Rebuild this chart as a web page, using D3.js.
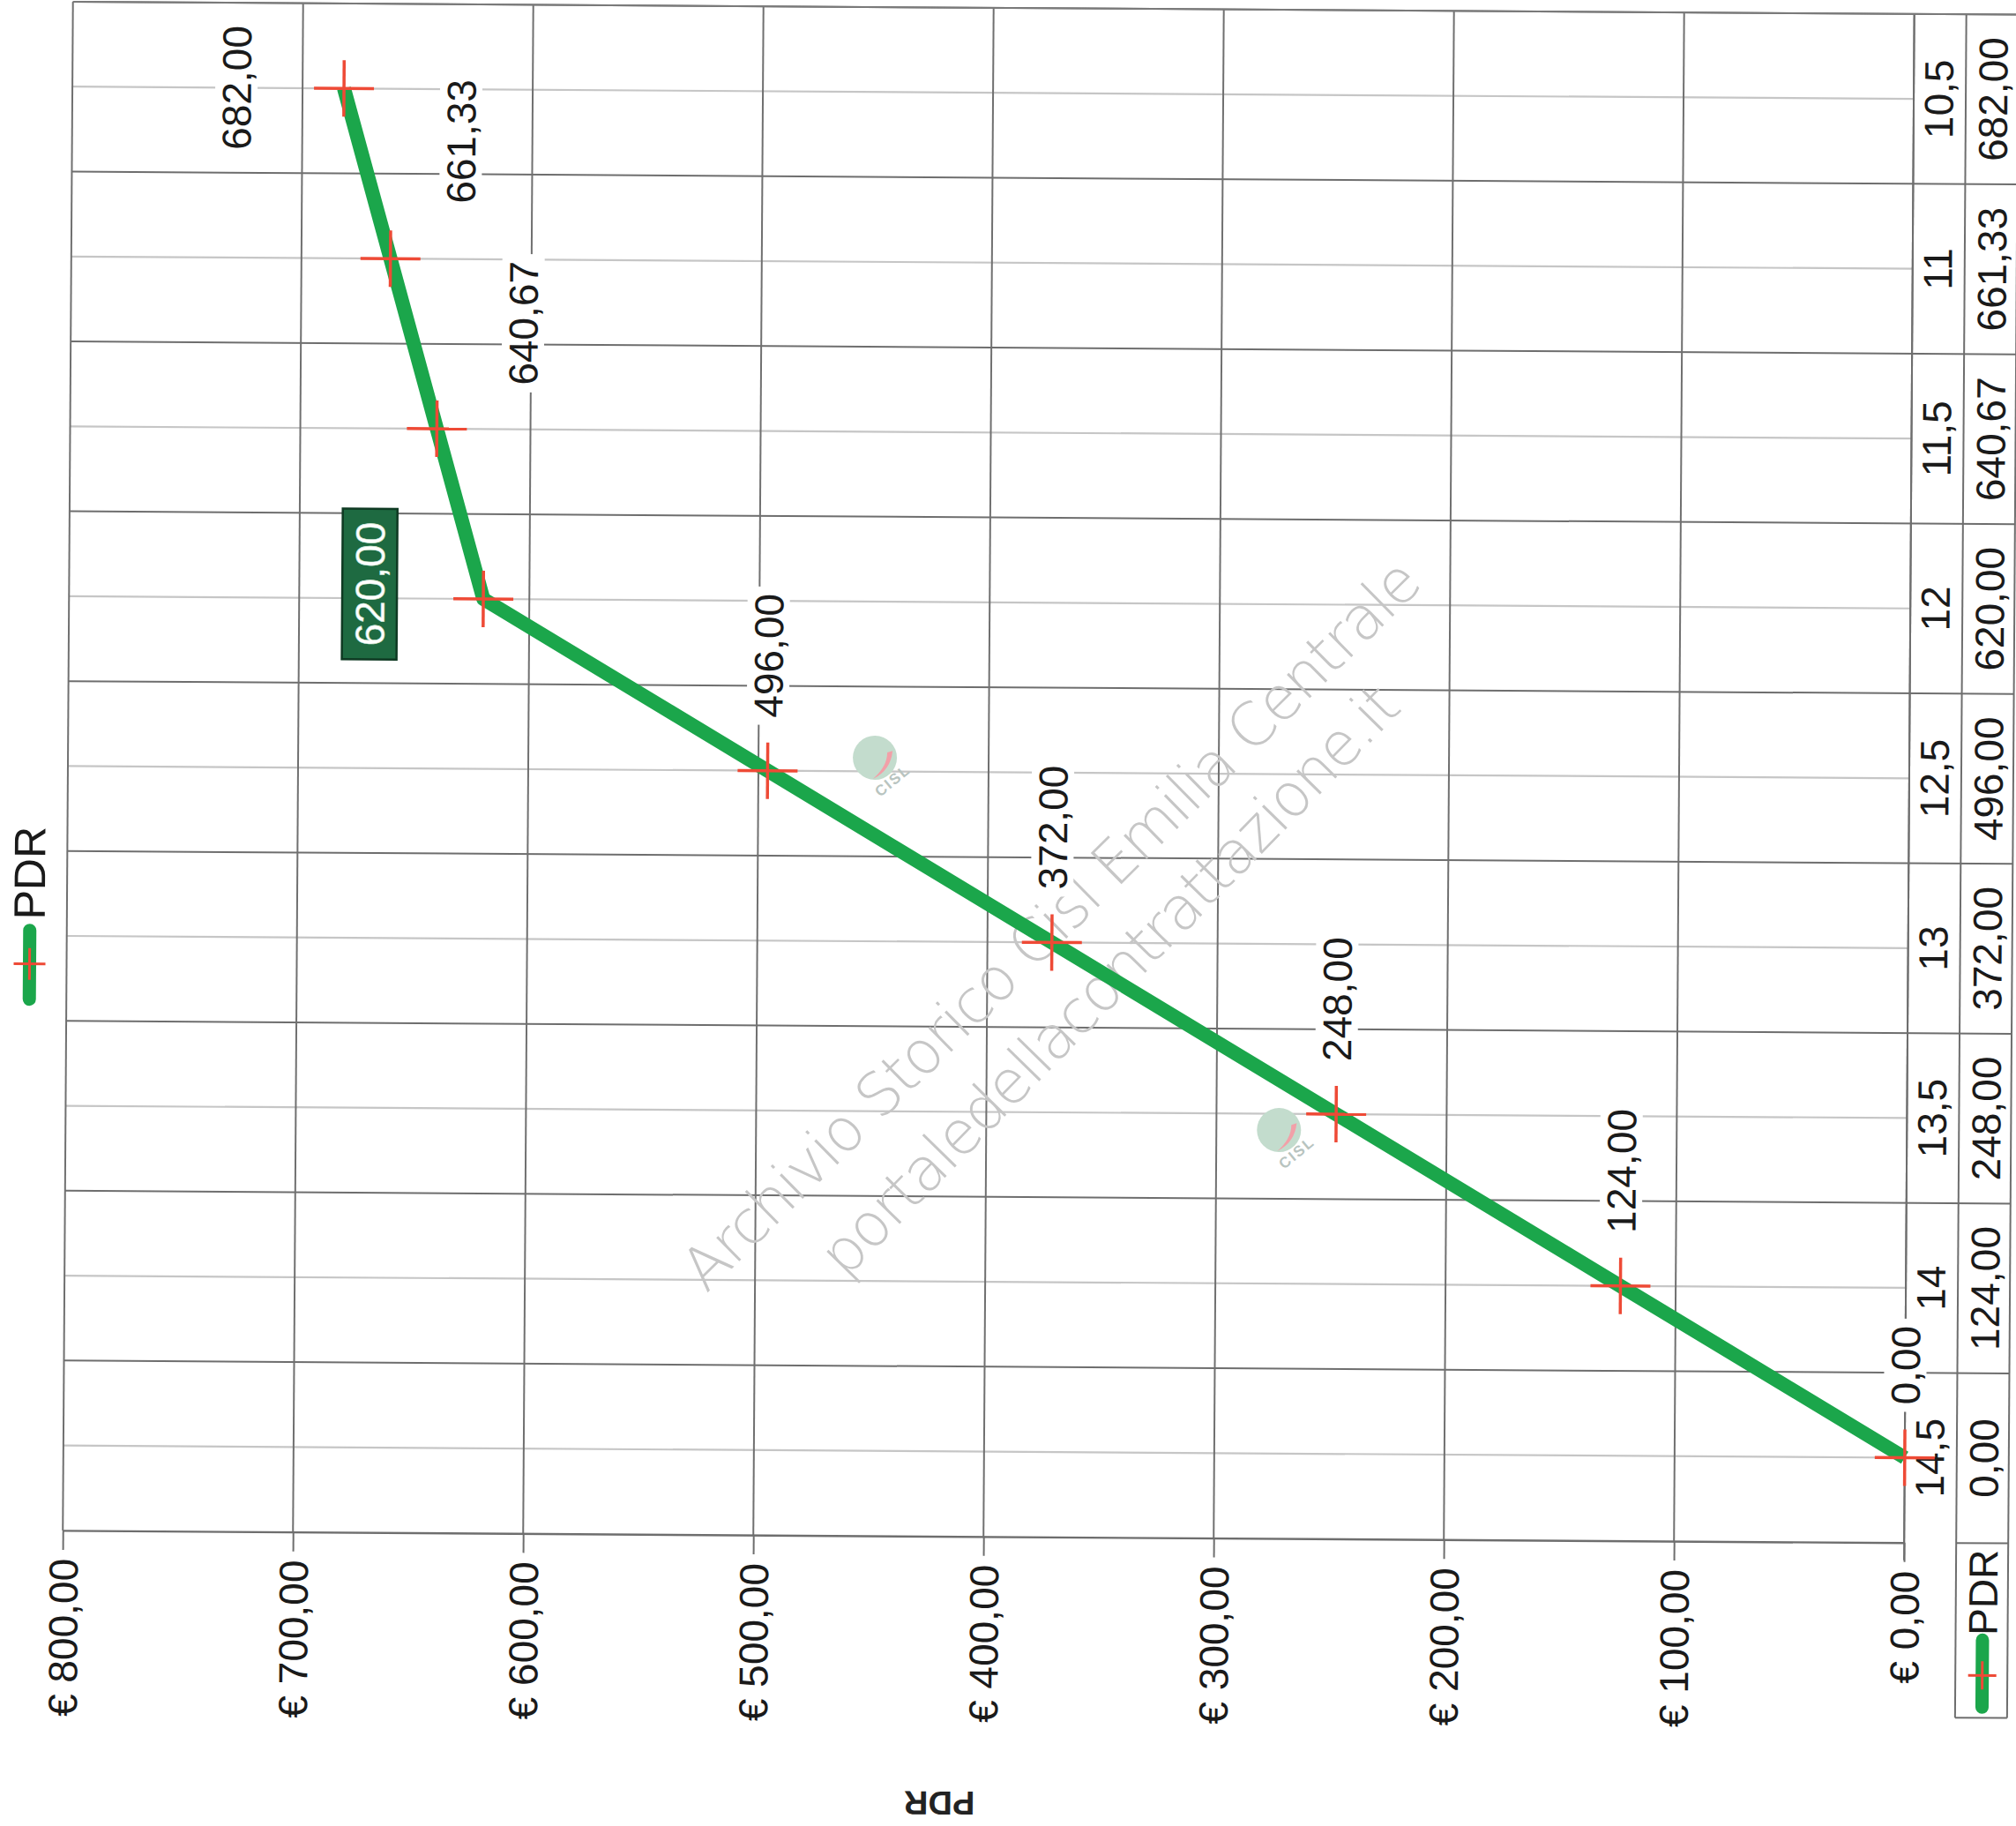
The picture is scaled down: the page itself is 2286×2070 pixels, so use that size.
<!DOCTYPE html>
<html>
<head>
<meta charset="utf-8">
<script src="https://cdn.jsdelivr.net/npm/d3@7"></script>
<style>
  html, body { margin: 0; padding: 0; background: #ffffff; }
  svg { display: block; }
</style>
</head>
<body>
<svg id="chart" width="2286" height="2070"></svg>
<script>
// ---------------- data ----------------
const categories = ["10,5", "11", "11,5", "12", "12,5", "13", "13,5", "14", "14,5"];
const values = [682.00, 661.33, 640.67, 620.00, 496.00, 372.00, 248.00, 124.00, 0.00];
const valueTicks = [0, 100, 200, 300, 400, 500, 600, 700, 800];
const seriesName = "PDR";
const axisTitle = "PDR";
const watermarkLines = ["Archivio Storico Cisl Emilia Centrale", "portaledellacontrattazione.it"];

// ---------------- layout ----------------
const W = 2286, H = 2070;
const plot = { left: 77, right: 2165, top: 9, bottom: 1742 };
const table = { col1: 2165, col2: 2224, right: 2283, legendBottom: 1940 };
const FONT = "'Liberation Sans', Arial, 'DejaVu Sans', sans-serif";
const GREEN = "#1ba64b", RED = "#ee4a36";

const fmt = v => d3.format(",.2f")(v).replace(/,/g, "#").replace(".", ",").replace(/#/g, ".");

const svg = d3.select("#chart");
svg.append("rect").attr("width", W).attr("height", H).attr("fill", "#fff");

// slight scan skew
const root = svg.append("g").attr("transform", "rotate(0.38, 1143, 870)");

const x = d3.scaleLinear().domain([0, 800]).range([plot.right, plot.left]);
const y = d3.scaleBand().domain(categories).range([plot.top, plot.bottom]).padding(0);
const yc = c => y(c) + y.bandwidth() / 2;

// ---------- grid: category centre lines (light) ----------
root.append("g").selectAll("line.cc").data(categories).join("line")
  .attr("x1", plot.left).attr("x2", plot.right)
  .attr("y1", d => yc(d)).attr("y2", d => yc(d))
  .attr("stroke", "#c6c6c6").attr("stroke-width", 2.2);

// ---------- grid: category boundary lines (dark, extend through table) ----------
const boundaries = categories.map(c => y(c));
root.append("g").selectAll("line.cb").data(boundaries).join("line")
  .attr("x1", plot.left).attr("x2", table.right)
  .attr("y1", d => d).attr("y2", d => d)
  .attr("stroke", "#6e6e6e").attr("stroke-width", 2);

// ---------- grid: value lines ----------
root.append("g").selectAll("line.vg").data(valueTicks).join("line")
  .attr("x1", d => x(d)).attr("x2", d => x(d))
  .attr("y1", plot.top).attr("y2", plot.bottom)
  .attr("stroke", "#707070").attr("stroke-width", 2);

// ---------- value axis (bottom of picture) ----------
const axis = d3.axisBottom(x).tickValues(valueTicks).tickSize(22).tickSizeOuter(0)
  .tickFormat(d => "€ " + fmt(d));
const axG = root.append("g").attr("transform", `translate(0,${plot.bottom})`).call(axis);
axG.select(".domain").attr("stroke", "#6e6e6e").attr("stroke-width", 2.4);
axG.selectAll(".tick line").attr("stroke", "#6e6e6e").attr("stroke-width", 2);
axG.selectAll(".tick text")
  .attr("font-family", FONT).attr("font-size", 46).attr("fill", "#1a1a1a")
  .attr("text-anchor", "end")
  .attr("transform", "translate(0,32) rotate(-90)")
  .attr("x", 0).attr("y", 0).attr("dy", "0.36em");

// ---------- data table at the right ----------
const tg = root.append("g");
tg.append("line").attr("x1", table.col1).attr("x2", table.col1).attr("y1", plot.top).attr("y2", plot.bottom + 20)
  .attr("stroke", "#6e6e6e").attr("stroke-width", 2);
tg.append("line").attr("x1", table.col2).attr("x2", table.col2).attr("y1", plot.top).attr("y2", table.legendBottom)
  .attr("stroke", "#6e6e6e").attr("stroke-width", 2);
tg.append("line").attr("x1", table.right).attr("x2", table.right).attr("y1", plot.top).attr("y2", table.legendBottom)
  .attr("stroke", "#6e6e6e").attr("stroke-width", 2);
tg.append("line").attr("x1", plot.left).attr("x2", table.right).attr("y1", plot.top).attr("y2", plot.top)
  .attr("stroke", "#7a7a7a").attr("stroke-width", 2);
tg.append("line").attr("x1", table.col2).attr("x2", table.right).attr("y1", plot.bottom).attr("y2", plot.bottom)
  .attr("stroke", "#6e6e6e").attr("stroke-width", 2);
tg.append("line").attr("x1", table.col2).attr("x2", table.right).attr("y1", table.legendBottom).attr("y2", table.legendBottom)
  .attr("stroke", "#6e6e6e").attr("stroke-width", 2);

const col1c = table.col1 + 28, col2c = (table.col2 + table.right) / 2 + 1;
tg.selectAll("text.cat").data(categories).join("text")
  .attr("transform", d => `translate(${col1c},${yc(d)}) rotate(-90)`)
  .attr("text-anchor", "middle").attr("dy", "0.36em")
  .attr("font-family", FONT).attr("font-size", 46).attr("fill", "#1a1a1a")
  .text(d => d);
tg.selectAll("text.val").data(values).join("text")
  .attr("transform", (d, i) => `translate(${col2c},${yc(categories[i])}) rotate(-90)`)
  .attr("text-anchor", "middle").attr("dy", "0.36em")
  .attr("font-family", FONT).attr("font-size", 46).attr("fill", "#1a1a1a")
  .text(d => fmt(d));

// legend symbol helper
function legendSymbol(g, cx, y1, y2, crossY, arm) {
  g.append("line").attr("x1", cx).attr("x2", cx).attr("y1", y1).attr("y2", y2)
    .attr("stroke", GREEN).attr("stroke-width", 15).attr("stroke-linecap", "round");
  g.append("line").attr("x1", cx - arm).attr("x2", cx + arm).attr("y1", crossY).attr("y2", crossY)
    .attr("stroke", RED).attr("stroke-width", 3);
  g.append("line").attr("x1", cx).attr("x2", cx).attr("y1", crossY - arm).attr("y2", crossY + arm)
    .attr("stroke", RED).attr("stroke-width", 3);
}

// legend inside the table
const tl = root.append("g");
tl.append("text").attr("transform", `translate(${col2c},1798) rotate(-90)`)
  .attr("text-anchor", "middle").attr("dy", "0.36em")
  .attr("font-family", FONT).attr("font-size", 46).attr("fill", "#1a1a1a").text(seriesName);
legendSymbol(tl, col2c, 1852, 1928, 1892, 16);

// ---------- watermark ----------
const wm = root.append("g").attr("fill", "#c6c6c6").attr("font-family", "'DejaVu Sans', " + FONT)
  .attr("font-weight", 200).attr("font-size", 68);
wm.append("text").attr("transform", "translate(1195,1050) rotate(-45)")
  .attr("text-anchor", "middle").attr("dy", "0.3em")
  .attr("textLength", 1144).attr("lengthAdjust", "spacing").text(watermarkLines[0]);
wm.append("text").attr("transform", "translate(1262,1112) rotate(-46)")
  .attr("text-anchor", "middle").attr("dy", "0.3em")
  .attr("textLength", 905).attr("lengthAdjust", "spacing").text(watermarkLines[1]);

// CISL logos (faint)
function logo(cx, cy) {
  const g = root.append("g").attr("transform", `translate(${cx},${cy})`);
  g.append("circle").attr("r", 25).attr("fill", "#c3dccd");
  g.append("path").attr("d", "M 20 -8 Q 18 14 -2 24 Q 14 10 14 -6 Z").attr("fill", "#f2a0a8");
  g.append("text").attr("transform", "translate(24,30) rotate(-40)").attr("text-anchor", "middle")
    .attr("font-family", FONT).attr("font-weight", "bold").attr("font-size", 17).attr("fill", "#b8c4c0")
    .attr("letter-spacing", 2).text("CISL");
}
logo(992, 860);
logo(1453, 1279);

// ---------- series line ----------
const pts = values.map((v, i) => [x(v), yc(categories[i])]);
root.append("path").datum(pts)
  .attr("d", d3.line())
  .attr("fill", "none").attr("stroke", GREEN).attr("stroke-width", 16)
  .attr("stroke-linejoin", "round").attr("stroke-linecap", "butt");

// markers (plus)
const mk = root.append("g").attr("stroke", RED).attr("stroke-width", 3.5);
mk.selectAll("line.h").data(pts).join("line")
  .attr("x1", d => d[0] - 34).attr("x2", d => d[0] + 34).attr("y1", d => d[1]).attr("y2", d => d[1]);
mk.selectAll("line.v").data(pts).join("line")
  .attr("x1", d => d[0]).attr("x2", d => d[0]).attr("y1", d => d[1] - 32).attr("y2", d => d[1] + 32);

// ---------- data labels ----------
const labelLayout = {
  0: { dx: -122, dy: 0, anchor: "middle" },
  1: { dx: 79, dy: -63, anchor: "start" },
  2: { dx: 97, dy: -50, anchor: "start" },
  3: { dx: -129, dy: -16, anchor: "middle", selected: true }
};
const defaultLayout = { dx: 0, dy: -60, anchor: "start" };
const lg = root.append("g");
values.forEach((v, i) => {
  const L = labelLayout[i] || defaultLayout;
  const [px, py] = pts[i];
  const g = lg.append("g").attr("transform", `translate(${px + L.dx},${py + L.dy}) rotate(-90)`);
  const bg = g.append("rect");
  const t = g.append("text").attr("text-anchor", L.anchor).attr("dy", "0.36em")
    .attr("font-family", FONT).attr("font-size", 46)
    .attr("fill", L.selected ? "#ffffff" : "#1a1a1a").text(fmt(v));
  const bb = t.node().getBBox();
  if (L.selected) {
    bg.attr("x", bb.x - 15).attr("y", -31).attr("width", bb.width + 30).attr("height", 62)
      .attr("fill", "#1e6a41").attr("stroke", "#0f3a23").attr("stroke-width", 2.5);
    t.attr("stroke", "#cfe6d6").attr("stroke-width", 0.6);
  } else {
    bg.attr("x", bb.x - 8).attr("y", -24).attr("width", bb.width + 16).attr("height", 48)
      .attr("fill", "#ffffff");
  }
});

// ---------- top legend (left side of picture) ----------
const lt = root.append("g");
lt.append("text").attr("transform", "translate(34,997) rotate(-90)")
  .attr("text-anchor", "middle").attr("dy", "0.36em")
  .attr("font-family", FONT).attr("font-size", 50).attr("fill", "#1a1a1a").text(seriesName);
legendSymbol(lt, 35, 1062, 1140, 1100, 18);

// ---------- axis title (upside down) ----------
root.append("text").attr("transform", "translate(1073,2045) rotate(180)")
  .attr("text-anchor", "middle").attr("dy", "0.36em")
  .attr("font-family", FONT).attr("font-weight", "bold").attr("font-size", 38).attr("fill", "#222")
  .text(axisTitle);
</script>
</body>
</html>
